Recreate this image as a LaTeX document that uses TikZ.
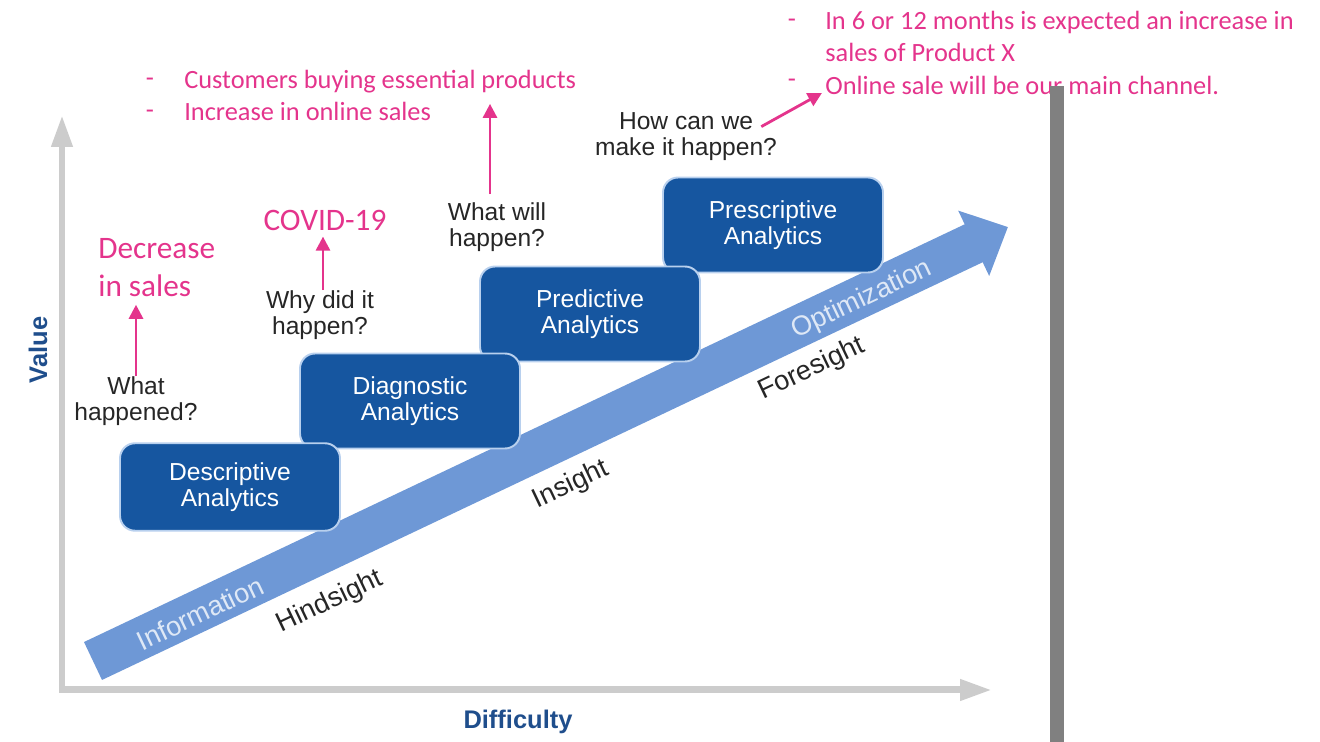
\documentclass[tikz,border=0pt]{standalone}
\usepackage{fontspec}
\setmainfont{Liberation Sans}
\newfontfamily\notefont{Carlito}
\usetikzlibrary{arrows.meta}
\definecolor{stepBlue}{RGB}{22,86,160}
\definecolor{stepEdge}{RGB}{184,208,238}
\definecolor{bandBlue}{RGB}{110,152,214}
\definecolor{bandText}{RGB}{222,232,246}
\definecolor{axisGray}{RGB}{204,204,204}
\definecolor{labelBlue}{RGB}{31,78,140}
\definecolor{notePink}{RGB}{228,52,140}
\definecolor{barGray}{RGB}{128,128,128}

\begin{document}
\begin{tikzpicture}[
  x=0.02cm, y=-0.02cm,
  stage/.style={draw=stepEdge, line width=1.1pt, rounded corners=0.3cm,
              fill=stepBlue, text=white, align=center,
              minimum width=4.4cm, minimum height=1.9cm,
              font=\fontsize{14}{15}\selectfont},
  question/.style={inner sep=0pt, align=center, text=black!85,
              font=\fontsize{14}{14.8}\selectfont},
  bandlabel/.style={inner sep=0pt, rotate=25.4,
              font=\fontsize{15.5}{16}\selectfont},
  axislabel/.style={inner sep=0pt, text=labelBlue,
              font=\fontsize{14.5}{15}\selectfont\bfseries},
  note/.style={inner sep=0pt, text=notePink,
              font=\notefont\fontsize{15}{18}\selectfont},
  bignote/.style={inner sep=0pt, text=notePink, align=left,
              font=\notefont\fontsize{17.8}{21.5}\selectfont},
  pinkarrow/.style={-{Triangle[length=0.28cm, width=0.28cm]},
              line width=1.6pt, draw=notePink},
  axis/.style={draw=axisGray, line width=0.14cm, line join=miter,
              {Triangle[length=0.64cm, width=0.4cm]}-{Triangle[length=0.64cm, width=0.4cm]}},
  band/.style={draw=bandBlue, line width=0.84cm,
              -{Triangle[length=0.76cm, width=1.4cm]}}
]
\useasboundingbox (0,0) rectangle (1320,742);

% axes and the rising band
\draw[axis] (62,115) -- (62,690) -- (992,690);
\node[axislabel, rotate=90] (value) at (38,350) {Value};
\node[axislabel] (difficulty) at (518,722) {Difficulty};

\draw[band] (93,661) -- (1008,227);
\node[bandlabel, text=bandText] (information) at (200,613) {Information};
\node[bandlabel, text=bandText] (optimization) at (862,300) {Optimization};
\node[bandlabel, text=black!85] (hindsight) at (330,602) {Hindsight};
\node[bandlabel, text=black!85] (insight) at (571,485) {Insight};
\node[bandlabel, text=black!85] (foresight) at (812,369) {Foresight};

% the four stages, later ones drawn first
\node[stage] (presc) at (773,225) {Prescriptive\\Analytics};
\node[stage] (pred)  at (590,314) {Predictive\\Analytics};
\node[stage] (diag)  at (410,401) {Diagnostic\\Analytics};
\node[stage, minimum height=1.75cm] (desc)  at (230,487) {Descriptive\\Analytics};

\node[question] (q1) at (136,401) {What\\happened?};
\node[question] (q2) at (320,315) {Why did it\\happen?};
\node[question] (q3) at (497,227) {What will\\happen?};
\node[question] (q4) at (686,137) {How can we\\make it happen?};

% notes
\node[bignote, anchor=north west] (decrease) at (98,238) {Decrease\\in sales};
\node[bignote] (covid) at (325,220) {COVID-19};

\node[note, anchor=base] (dash1) at (150,87) {-};
\node[note, anchor=base west] (customers) at (184,89) {Customers buying essential products};
\node[note, anchor=base] (dash2) at (150,119) {-};
\node[note, anchor=base west] (online) at (184,121) {Increase in online sales};

\node[note, anchor=base] (dash3) at (792,28) {-};
\node[note, anchor=base west] (months) at (825,30) {In 6 or 12 months is expected an increase in};
\node[note, anchor=base west] (product) at (825,62) {sales of Product X};
\node[note, anchor=base] (dash4) at (792,88) {-};
\node[note, anchor=base west] (channel) at (825,95) {Online sale will be our main channel.};

\draw[pinkarrow] (q1.north) -- ([yshift=-0.16cm]q1.north |- decrease.south);
\draw[pinkarrow] ([xshift=0.06cm]q2.north) -- ([xshift=0.06cm,yshift=-0.12cm]q2.north |- covid.south);
\draw[pinkarrow] ([xshift=-0.14cm,yshift=0.16cm]q3.north) -- ([xshift=-0.14cm,yshift=-0.2cm]q3.north |- customers.south);
\draw[pinkarrow] ([xshift=-0.32cm,yshift=-0.28cm]q4.north east) -- ([xshift=-0.06cm,yshift=-0.14cm]channel.west);

% right-hand divider
\fill[barGray] (1050,86) rectangle (1064,742);
\end{tikzpicture}
\end{document}
